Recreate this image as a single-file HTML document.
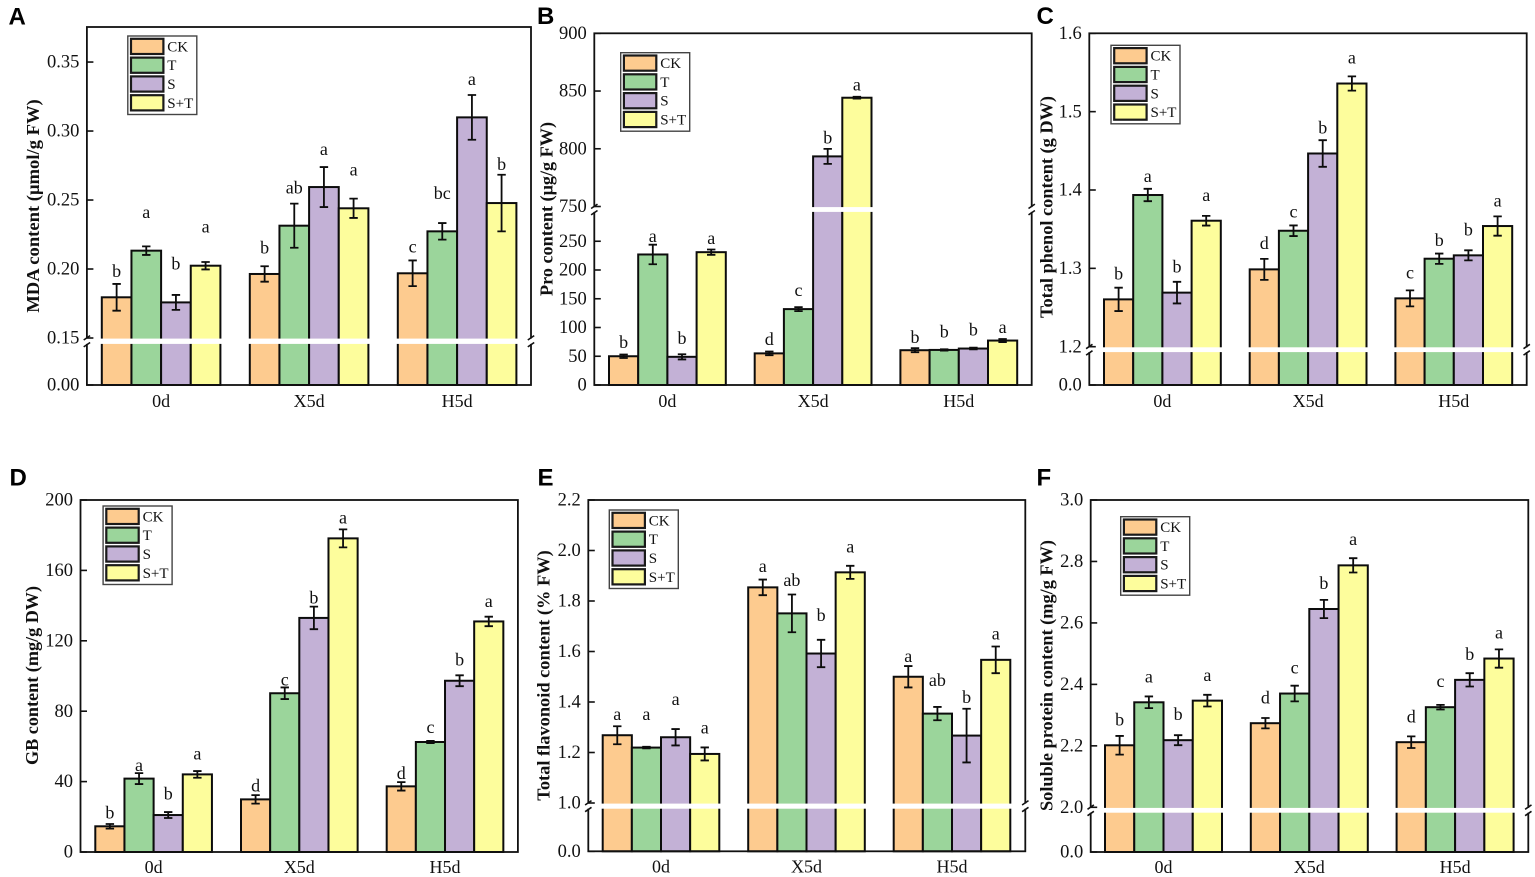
<!DOCTYPE html>
<html lang="en">
<head>
<meta charset="utf-8">
<title>Six-panel bar charts of physiological indices</title>
<style>
html,body{margin:0;padding:0;background:#fff;}
svg{display:block;filter:blur(0.35px);}
text{font-family:"Liberation Serif",serif;fill:#111;}
.panel-letter{font-family:"Liberation Sans",sans-serif;font-weight:700;font-size:24px;fill:#000;}
.y-title{font-weight:700;font-size:18px;}
.tick-label{font-size:18.5px;text-anchor:end;}
.cat-label{font-size:18px;text-anchor:middle;}
.sig-letter{font-size:18px;text-anchor:middle;}
.legend-label{font-size:15px;}
.series-0{fill:#FDCB8F;}
.series-1{fill:#9BD59B;}
.series-2{fill:#C3B1D6;}
.series-3{fill:#FDFD9C;}
.bar{stroke:#0c0c0c;stroke-width:2;}
.err{stroke:#0c0c0c;stroke-width:1.8;fill:none;}
.frame{fill:none;stroke:#111;stroke-width:1.8;}
.tick{stroke:#111;stroke-width:1.6;}
.band{fill:#fff;stroke:none;}
.slash{stroke:#111;stroke-width:1.6;fill:none;}
.legend-box{fill:#fff;stroke:#444;stroke-width:1.4;}
.legend-swatch{stroke:#1a1a1a;stroke-width:2.2;}
</style>
</head>
<body>
<svg id="figure" width="1535" height="877" viewBox="0 0 1535 877" xmlns="http://www.w3.org/2000/svg">
  <rect width="1535" height="877" fill="#fff"/>
  <g id="panel-a">
    <text class="panel-letter" x="8.5" y="24.5">A</text>
    <text class="y-title" transform="translate(39,206) rotate(-90)" text-anchor="middle" textLength="213.5" lengthAdjust="spacingAndGlyphs">MDA content (μmol/g FW)</text>
  </g>
  <g id="panel-b">
    <text class="panel-letter" x="537" y="24">B</text>
    <text class="y-title" transform="translate(552.5,209) rotate(-90)" text-anchor="middle" textLength="174" lengthAdjust="spacingAndGlyphs">Pro content (μg/g FW)</text>
  </g>
  <g id="panel-c">
    <text class="panel-letter" x="1036.5" y="24">C</text>
    <text class="y-title" transform="translate(1052.5,207) rotate(-90)" text-anchor="middle" textLength="222" lengthAdjust="spacingAndGlyphs">Total phenol content (g DW)</text>
  </g>
  <g id="panel-d">
    <text class="panel-letter" x="9.5" y="485.5">D</text>
    <text class="y-title" transform="translate(38,675.5) rotate(-90)" text-anchor="middle" textLength="179" lengthAdjust="spacingAndGlyphs">GB content (mg/g DW)</text>
  </g>
  <g id="panel-e">
    <text class="panel-letter" x="537.5" y="485.5">E</text>
    <text class="y-title" transform="translate(549.5,675.5) rotate(-90)" text-anchor="middle" textLength="250.5" lengthAdjust="spacingAndGlyphs">Total flavonoid content (% FW)</text>
  </g>
  <g id="panel-f">
    <text class="panel-letter" x="1036.5" y="485.5">F</text>
    <text class="y-title" transform="translate(1052.5,675.5) rotate(-90)" text-anchor="middle" textLength="271" lengthAdjust="spacingAndGlyphs">Soluble protein content (mg/g FW)</text>
  </g>
</svg>
<script>
/* Shared categories and series */
const categories = ['0d', 'X5d', 'H5d'];
const seriesNames = ['CK', 'T', 'S', 'S+T'];

/* Panel A: one row per category, one column per series */
const mdaValues = [[0.1795, 0.2133, 0.1758, 0.2024], [0.1964, 0.2314, 0.2594, 0.2440], [0.1969, 0.2273, 0.3099, 0.2478]];
const mdaErrors = [[0.0097, 0.0031, 0.0054, 0.0027], [0.0056, 0.0160, 0.0145, 0.0070], [0.0093, 0.0060, 0.0162, 0.0205]];
const mdaLetters = [['b', 'a', 'b', 'a'], ['b', 'ab', 'a', 'a'], ['c', 'bc', 'a', 'b']];
const mdaLetterLift = [[0.0051, 0.0205, 0.0186, 0.0213], [0.0092, 0.0072, 0.0089, 0.0167], [0.0056, 0.0176, 0.0072, 0.0034]];
const mdaTickLabels = ['0.00', '0.15', '0.20', '0.25', '0.30', '0.35'];

/* Panel B */
const proValues = [[50, 227, 49, 231], [55, 132, 793.4, 844.2], [60.5, 61, 63.4, 77.3]];
const proErrors = [[3, 17, 4.5, 4.6], [3.2, 3.5, 6.5, 0.8], [3.5, 1.2, 1.5, 2.6]];
const proLetters = [['b', 'a', 'b', 'a'], ['d', 'c', 'b', 'a'], ['b', 'b', 'b', 'a']];
const proLetterLift = [[11, 5, 17.4, 9.3], [11, 19, 4.6, 5.5], [9.3, 20, 21, 10.5]];
const proTickLabels = ['0', '50', '100', '150', '200', '250', '750', '800', '850', '900'];

/* Panel C */
const phenolValues = [[1.2604, 1.3936, 1.2690, 1.3608], [1.2987, 1.3480, 1.4466, 1.5359], [1.2617, 1.3123, 1.3166, 1.3540]];
const phenolErrors = [[0.0149, 0.0079, 0.0138, 0.0062], [0.0134, 0.0068, 0.0170, 0.0091], [0.0102, 0.0066, 0.0064, 0.0123]];
const phenolLetters = [['b', 'a', 'b', 'a'], ['d', 'c', 'b', 'a'], ['c', 'b', 'b', 'a']];
const phenolLetterLift = [[0.0106, 0.0085, 0.0119, 0.0191], [0.0123, 0.0102, 0.0085, 0.0162], [0.0153, 0.0098, 0.0191, 0.0128]];
const phenolTickLabels = ['0.0', '1.2', '1.3', '1.4', '1.5', '1.6'];

/* Panel D */
const gbValues = [[14.6, 41.7, 21, 44.1], [29.9, 90.2, 133, 178.2], [37.3, 62.5, 97.3, 131]];
const gbErrors = [[1.3, 3.1, 1.7, 1.9], [2.4, 3.3, 6.4, 5.1], [2.4, 0.6, 3.1, 2.7]];
const gbLetters = [['b', 'a', 'b', 'a'], ['d', 'c', 'b', 'a'], ['d', 'c', 'b', 'a']];
const gbLetterLift = [[3.2, 1.3, 7, 6.6], [2.1, 1.1, 1.9, 3.4], [1.9, 4.4, 5.5, 5.5]];
const gbTickLabels = ['0', '40', '80', '120', '160', '200'];

/* Panel E */
const flavonoidValues = [[1.2684, 1.2195, 1.2604, 1.1943], [1.8540, 1.7510, 1.5920, 1.9135], [1.5000, 1.3540, 1.2670, 1.5670]];
const flavonoidErrors = [[0.0357, 0.0030, 0.0324, 0.0258], [0.0310, 0.0747, 0.0542, 0.0258], [0.0423, 0.0264, 0.1064, 0.0529]];
const flavonoidLetters = [['a', 'a', 'a', 'a'], ['a', 'ab', 'b', 'a'], ['a', 'ab', 'b', 'a']];
const flavonoidLetterLift = [[0.0251, 0.1058, 0.0952, 0.0542], [0.0291, 0.0344, 0.0740, 0.0529], [0.0159, 0.0820, 0.0225, 0.0278]];
const flavonoidTickLabels = ['0.0', '1.0', '1.2', '1.4', '1.6', '1.8', '2.0', '2.2'];

/* Panel F */
const proteinValues = [[2.2018, 2.3417, 2.2184, 2.3471], [2.2737, 2.3702, 2.6453, 2.7873], [2.2119, 2.3258, 2.4147, 2.4841]];
const proteinErrors = [[0.0304, 0.0190, 0.0163, 0.0190], [0.0168, 0.0255, 0.0298, 0.0233], [0.0190, 0.0076, 0.0217, 0.0298]];
const proteinLetters = [['b', 'a', 'b', 'a'], ['d', 'c', 'b', 'a'], ['d', 'c', 'b', 'a']];
const proteinLetterLift = [[0.0336, 0.0455, 0.0488, 0.0444], [0.0477, 0.0401, 0.0347, 0.0423], [0.0455, 0.0575, 0.0434, 0.0358]];
const proteinTickLabels = ['0.0', '2.0', '2.2', '2.4', '2.6', '2.8', '3.0'];

const SVG_NS = 'http://www.w3.org/2000/svg';

function shape(tag, attrs, parent) {
  const node = document.createElementNS(SVG_NS, tag);
  for (const key in attrs) node.setAttribute(key, attrs[key]);
  parent.appendChild(node);
  return node;
}

/* Piecewise linear y axis: a lower and (optionally) an upper segment */
function makeAxis(segments) {
  return function (v) {
    let seg = segments[0];
    for (const s of segments) if (v >= s.from) seg = s;
    return seg.yFrom + (v - seg.from) * (seg.yTo - seg.yFrom) / (seg.to - seg.from);
  };
}

function drawPanel(p) {
  const root = document.getElementById(p.id);
  const y = makeAxis(p.segments);
  const baseY = y(0);
  const topY = p.segments[p.segments.length - 1].yTo;
  const barX = (g, s) => p.firstGroup + g * p.groupStep + s * p.barWidth;

  categories.forEach(function (cat, g) {
    seriesNames.forEach(function (name, s) {
      const value = p.values[g][s];
      const err = p.errors[g][s];
      const x = barX(g, s);
      const cx = x + p.barWidth / 2;

      const bar = shape('rect', {class: 'bar series-' + s, x: x, y: y(value), width: p.barWidth, height: Math.max(0, baseY - y(value))}, root);
      
      

      const hi = y(value + err);
      const lo = y(value - err);
      const errPath = 'M' + cx + ' ' + hi + 'V' + lo + 'M' + (cx - 4.2) + ' ' + hi + 'H' + (cx + 4.2) + 'M' + (cx - 4.2) + ' ' + lo + 'H' + (cx + 4.2);
      const errorBar = shape('path', {class: 'err', d: errPath}, root);
      
      

      const letter = shape('text', {class: 'sig-letter', x: cx, y: y(value + err + p.lift[g][s])}, root);
      letter.textContent = p.letters[g][s];
      
      
    });

    const catLabel = shape('text', {class: 'cat-label', x: barX(g, 2), y: p.catY}, root);
    catLabel.textContent = cat;
    
    
  });

  const frame = shape('rect', {class: 'frame', x: p.left, y: topY, width: p.right - p.left, height: baseY - topY}, root);
  
  

  if (p.segments.length > 1) {
    const bandTop = p.segments[1].yFrom;
    const bandBottom = p.segments[0].yTo;
    const band = shape('rect', {class: 'band', x: p.left - 2, y: bandTop + 0.6, width: p.right - p.left + 4, height: bandBottom - bandTop - 1.2}, root);
    
    
    [p.left, p.right].forEach(function (edge) {
      const d = 'M' + (edge - 3.2) + ' ' + (bandTop + 2) + 'L' + (edge + 3.2) + ' ' + (bandTop - 2.4) +
                'M' + (edge - 3.2) + ' ' + (bandBottom + 2.4) + 'L' + (edge + 3.2) + ' ' + (bandBottom - 2);
      const slash = shape('path', {class: 'slash', d: d}, root);
      
      
    });
  }

  p.tickLabels.forEach(function (label) {
    const ty = y(parseFloat(label));
    const tick = shape('line', {class: 'tick', x1: p.left, x2: p.left + 6.5, y1: ty, y2: ty}, root);
    
    
    const tickText = shape('text', {class: 'tick-label', x: p.left - 7.5, y: ty + 5.6}, root);
    tickText.textContent = label;
    
    
  });

  const legend = shape('g', {}, root);
  
  
  const legendBox = shape('rect', {class: 'legend-box', x: p.legendX, y: p.legendY, width: 69, height: 78.5}, legend);
  
  
  seriesNames.forEach(function (name, s) {
    const rowY = p.legendY + 2.8 + s * 18.8;
    const swatch = shape('rect', {class: 'legend-swatch series-' + s, x: p.legendX + 3.2, y: rowY, width: 32.4, height: 15.2}, legend);
    
    
    const entry = shape('text', {class: 'legend-label', x: p.legendX + 39.5, y: rowY + 12.6}, legend);
    entry.textContent = name;
    
    
  });
}

drawPanel({id: 'panel-a', values: mdaValues, errors: mdaErrors, letters: mdaLetters, lift: mdaLetterLift, tickLabels: mdaTickLabels,
  left: 86.9, right: 531, firstGroup: 101.8, groupStep: 148, barWidth: 29.65, catY: 407, legendX: 127.8, legendY: 36,
  segments: [{from: 0, to: 0.15, yFrom: 385, yTo: 344.5}, {from: 0.15, to: 0.3754, yFrom: 338, yTo: 27}]});

drawPanel({id: 'panel-b', values: proValues, errors: proErrors, letters: proLetters, lift: proLetterLift, tickLabels: proTickLabels,
  left: 594.3, right: 1031.7, firstGroup: 609, groupStep: 145.7, barWidth: 29.2, catY: 407, legendX: 620.7, legendY: 52.7,
  segments: [{from: 0, to: 300, yFrom: 385, yTo: 212.5}, {from: 750, to: 900, yFrom: 206.5, yTo: 33.3}]});

drawPanel({id: 'panel-c', values: phenolValues, errors: phenolErrors, letters: phenolLetters, lift: phenolLetterLift, tickLabels: phenolTickLabels,
  left: 1089.3, right: 1526.7, firstGroup: 1104, groupStep: 145.7, barWidth: 29.2, catY: 407, legendX: 1111, legendY: 45.3,
  segments: [{from: 0, to: 1.2, yFrom: 385, yTo: 352.7}, {from: 1.2, to: 1.6, yFrom: 346.7, yTo: 33.3}]});

drawPanel({id: 'panel-d', values: gbValues, errors: gbErrors, letters: gbLetters, lift: gbLetterLift, tickLabels: gbTickLabels,
  left: 80.5, right: 517.9, firstGroup: 95.3, groupStep: 145.7, barWidth: 29.16, catY: 873, legendX: 103.1, legendY: 506,
  segments: [{from: 0, to: 200, yFrom: 852, yTo: 500}]});

drawPanel({id: 'panel-e', values: flavonoidValues, errors: flavonoidErrors, letters: flavonoidLetters, lift: flavonoidLetterLift, tickLabels: flavonoidTickLabels,
  left: 588.3, right: 1025.3, firstGroup: 602.7, groupStep: 145.5, barWidth: 29.15, catY: 872.7, legendX: 609.3, legendY: 510,
  segments: [{from: 0, to: 1.0, yFrom: 851.3, yTo: 809.3}, {from: 1.0, to: 2.2, yFrom: 803, yTo: 500}]});

drawPanel({id: 'panel-f', values: proteinValues, errors: proteinErrors, letters: proteinLetters, lift: proteinLetterLift, tickLabels: proteinTickLabels,
  left: 1090.7, right: 1528.3, firstGroup: 1105, groupStep: 145.8, barWidth: 29.25, catY: 873, legendX: 1120.7, legendY: 516.7,
  segments: [{from: 0, to: 2.0, yFrom: 852, yTo: 813.3}, {from: 2.0, to: 3.0, yFrom: 807.3, yTo: 500}]});
</script>
</body>
</html>
